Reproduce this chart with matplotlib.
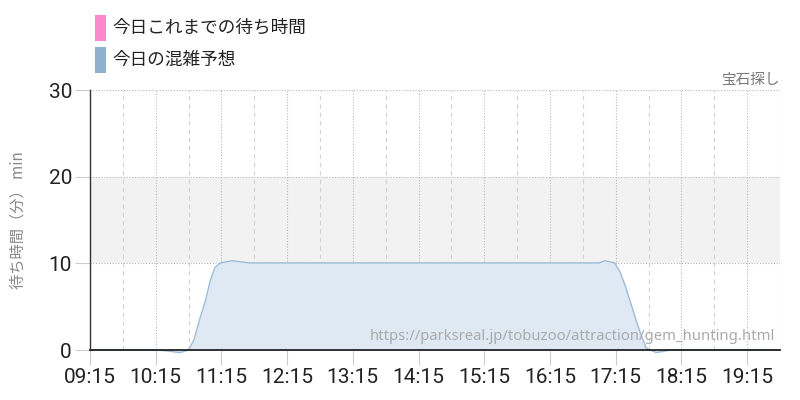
import matplotlib
matplotlib.use("Agg")
import matplotlib.pyplot as plt
from matplotlib.patches import Rectangle

plt.rcParams['font.family'] = ['Noto Sans CJK JP', 'DejaVu Sans']

# ---- data ----
times = ["09:15", "10:15", "10:25", "10:37", "10:45", "10:50", "10:55", "11:00",
         "11:05", "11:09", "11:14", "11:25", "11:40",
         "17:00", "17:05", "17:14", "17:19", "17:24", "17:34", "17:38", "17:43",
         "17:52", "18:05", "19:45"]
forecast = [0, 0, -0.1, -0.3, 0, 1.2, 3.5, 5.5,
            8.1, 9.5, 10.05, 10.3, 10.05,
            10.05, 10.3, 10.05, 9.0, 7.3, 3.3, 1.8, 0.2,
            -0.3, 0, 0]
tick_labels = ["09:15", "10:15", "11:15", "12:15", "13:15", "14:15",
               "15:15", "16:15", "17:15", "18:15", "19:15"]
legend_labels = ["今日これまでの待ち時間", "今日の混雑予想"]
legend_colors = ["#ff88cc", "#8fb0cf"]
title = "宝石探し"
ylabel = "待ち時間（分） min"
url = "https://parksreal.jp/tobuzoo/attraction/gem_hunting.html"

def to_h(s):
    h, m = s.split(":")
    return int(h) + int(m) / 60.0

x = [to_h(t) for t in times]
ticks = [to_h(t) for t in tick_labels]

W, H = 800, 400
fig = plt.figure(figsize=(8, 4), dpi=100)
ax = fig.add_axes([90 / W, 1 - 350 / H, 690 / W, 260 / H])

xmin, xmax = to_h("09:15"), to_h("19:45")
ax.set_xlim(xmin, xmax)
ax.set_ylim(0, 30)

# band
ax.axhspan(10, 20, color="#f2f2f2", zorder=0, lw=0)

# grids
for v in [10, 20, 30]:
    ax.axhline(v, color="#bbbbbb", lw=0.8, ls=(0, (1, 1.5)), zorder=1)
for t in ticks:
    ax.axvline(t, color="#bbbbbb", lw=0.8, ls=(0, (1, 1.5)), zorder=1)
    if t + 0.5 < xmax + 0.01:
        ax.axvline(t + 0.5, color="#d2d2d2", lw=0.8, ls=(0, (4, 3.5)), zorder=1)

ax.fill_between(x, forecast, 0, color="#dfe9f3", zorder=2, lw=0, clip_on=False)
ax.plot(x, forecast, color="#9dbcd9", lw=1.0, zorder=3, clip_on=False)

ax.set_xticks(ticks)
ax.set_xticklabels(tick_labels)
ax.set_yticks([0, 10, 20, 30])

tickfont = ['Roboto', 'DejaVu Sans']
for lab in ax.get_xticklabels() + ax.get_yticklabels():
    lab.set_family(tickfont)
    lab.set_fontsize(15)
    lab.set_color("#222222")
ax.tick_params(axis='both', length=11, width=0.8, color="#cccccc", pad=2)

for s in ["top", "right"]:
    ax.spines[s].set_visible(False)
ax.spines["left"].set_color("#333333")
ax.spines["bottom"].set_color("#111111")
ax.spines["left"].set_linewidth(1.0)
ax.spines["bottom"].set_linewidth(1.2)
ax.spines["bottom"].set_zorder(4)

ax.set_ylabel(ylabel, fontsize=11, color="#888888", labelpad=16)

ax.text(1.0, 1.01, title, transform=ax.transAxes, ha="right", va="bottom",
        fontsize=10.5, color="#777777")
ax.text(0.993, 0.022, url, transform=ax.transAxes, ha="right", va="bottom",
        fontsize=10.7, color="#aaaaaa", family=['Noto Sans', 'DejaVu Sans'], zorder=5)

# legend (drawn in figure pixel coordinates)
for i, (lab, col) in enumerate(zip(legend_labels, legend_colors)):
    top = 15 + i * 31.7
    fig.add_artist(Rectangle((95 / W, 1 - (top + 26) / H), 11 / W, 26 / H,
                             transform=fig.transFigure, facecolor=col,
                             edgecolor="none"))
    fig.text(112 / W, 1 - (top + 13) / H, lab, ha="left", va="center",
             fontsize=12.7, color="#222222")

fig.savefig("out.png", dpi=100)
